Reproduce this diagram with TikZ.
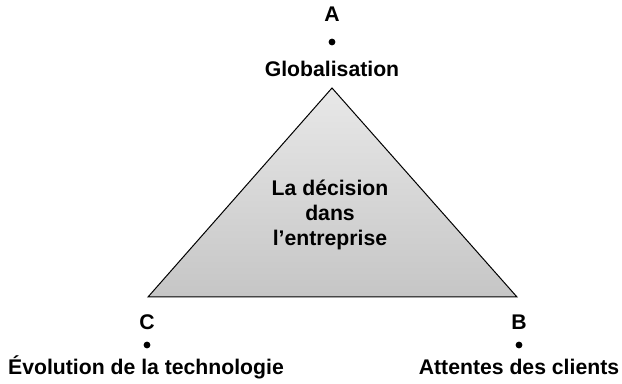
\documentclass[tikz,border=0pt]{standalone}
\usepackage{fontspec}
\setmainfont{Liberation Sans}
\usetikzlibrary{positioning}

\begin{document}
\begin{tikzpicture}[x=0.5pt,
            y=-0.5pt,
            font=\bfseries\fontsize{10.6}{11.6}\selectfont,
            dot/.style={circle,fill,inner sep=0pt,minimum size=3.4pt},
            corner/.style={inner sep=0pt,anchor=base},
            face/.style={draw,line width=0.5pt,top color=gray!18,bottom color=gray!45}]

        \useasboundingbox (0,0) rectangle (622,384);

        % sommets du triangle
        \coordinate (top)   at (332,88);
        \coordinate (left)  at (148,297);
        \coordinate (right) at (517,297);

        \shadedraw[face] (top) -- (right) -- (left) -- cycle;
        \node[align=center,inner sep=0pt,font=\bfseries\fontsize{10.6}{12.4}\selectfont]
            (centre) at (330,215) {La d\'ecision\\dans\\l'entreprise};

        \node[corner] (A)    at (332,22)  {A};
        \node[dot]    (Adot) at (332,42)  {};
        \node[corner] (glob) at (332,77)  {Globalisation};

        \node[corner] (C)    at (147,330) {C};
        \node[dot]    (Cdot) at (147,345) {};
        \node[corner] (tech) at (146,375) {\'Evolution de la technologie};

        \node[corner] (B)    at (519,330) {B};
        \node[dot]    (Bdot) at (519,345) {};
        \node[corner] (cli)  at (519,375) {Attentes des clients};

    \end{tikzpicture}
\end{document}
